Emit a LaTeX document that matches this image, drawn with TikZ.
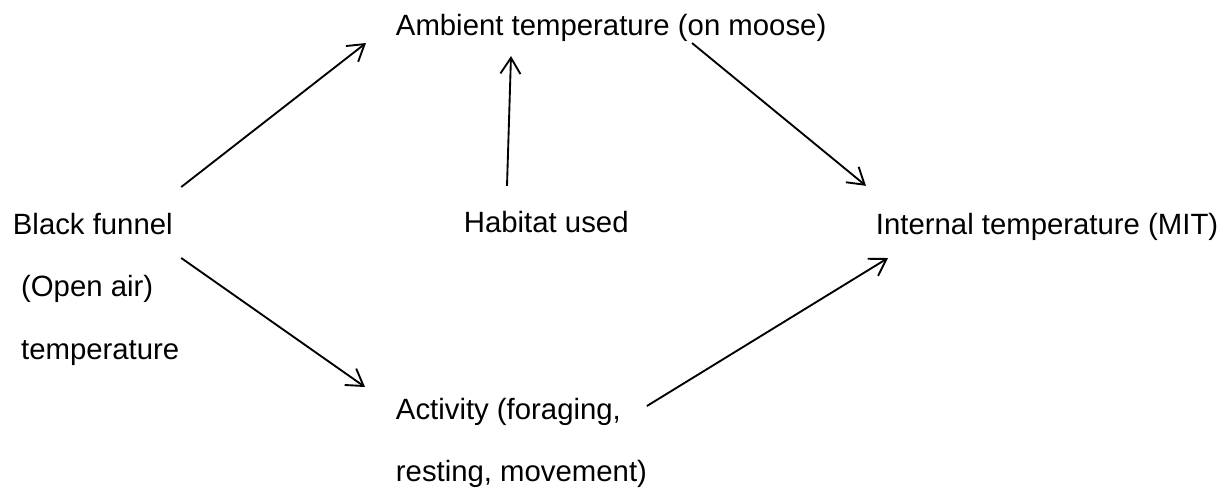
\documentclass[tikz,border=0pt]{standalone}
\usepackage{fontspec}
\setmainfont{Liberation Sans}
\usetikzlibrary{arrows.meta}
\begin{document}
\begin{tikzpicture}[x=0.75pt, y=-0.75pt, line width=1.4pt, >={Straight Barb[length=12pt,width=15pt]},text node/.style={inner sep=0pt,font=\fontsize{22}{47}\selectfont,align=left}]
\useasboundingbox (0,0) rectangle (1225,501);
\node[text node, anchor=base west] (ambient) at (395,35) {Ambient temperature (on moose)};
\node[text node, anchor=base west] (habitat) at (463,232) {Habitat used};
\node[text node, anchor=base west] (internal) at (875,234) {Internal temperature (MIT)};
\node[text node, anchor=north west] (funnel) at (12,212) {Black funnel\\\hspace*{0.28em}(Open air)\\\hspace*{0.28em}temperature};
\node[text node, anchor=north west] (activity) at (395,397) {Activity (foraging,\\resting, movement)};
\draw[->] ([shift={(1,-25)}]funnel.north east) -- ([shift={(-29,1)}]ambient.south west);
\draw[->] ([shift={(44,-24)}]habitat.north west) -- ([shift={(116,14)}]ambient.south west);
\draw[->] ([shift={(297,1)}]ambient.south west) -- ([shift={(-9,-26)}]internal.north west);
\draw[->] ([shift={(1,46)}]funnel.north east) -- ([shift={(-30,-10)}]activity.north west);
\draw[->] ([shift={(-1,9)}]activity.north east) -- ([shift={(13,17)}]internal.south west);
\end{tikzpicture}
\end{document}
